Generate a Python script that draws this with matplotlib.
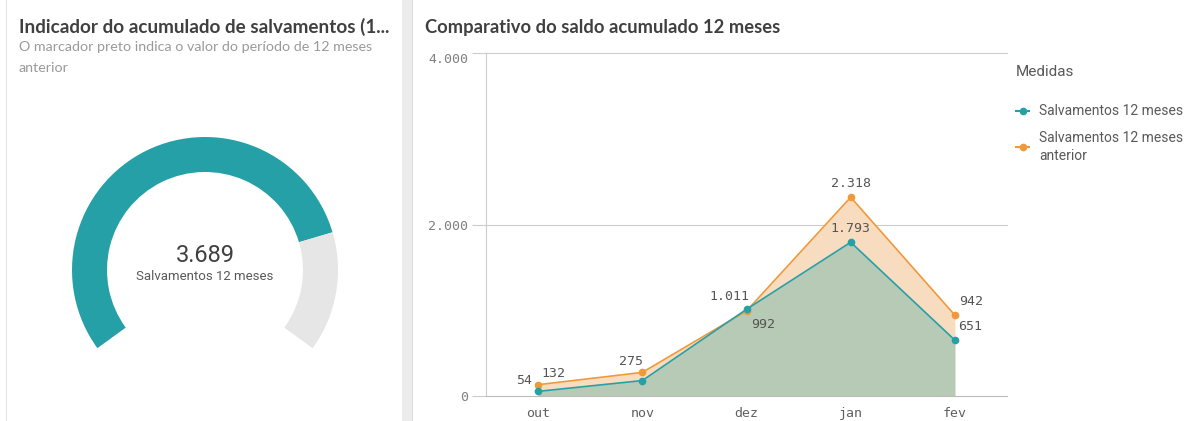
import matplotlib.pyplot as plt
from matplotlib.lines import Line2D
from matplotlib.patches import Rectangle

# dados
meses = ['out', 'nov', 'dez', 'jan', 'fev']
salv_12m = [54, 180, 1011, 1793, 651]
salv_12m_anterior = [132, 275, 992, 2318, 942]
rotulos_12m = ['54', None, '1.011', '1.793', '651']
rotulos_anterior = ['132', '275', '992', '2.318', '942']
y_ticks = [0, 2000, 4000]
y_tick_labels = ['0', '2.000', '4.000']
series_nomes = ['Salvamentos 12 meses', 'Salvamentos 12 meses\nanterior']

total_atual = sum(salv_12m)
total_anterior = sum(salv_12m_anterior)

TEAL = '#26a0a7'
ORANGE = '#f0993a'
W, H = 1204, 421


def fx(px):
    return px / W


def fy(py):
    return 1 - py / H


fig = plt.figure(figsize=(W / 100, H / 100), dpi=100)
fig.patch.set_facecolor('white')

# bordas / divisores
fig.add_artist(Rectangle((fx(6), 0), fx(1.5), 1, transform=fig.transFigure,
                         color='#e3e3e3', lw=0))
fig.add_artist(Rectangle((fx(402), 0), fx(10), 1, transform=fig.transFigure,
                         color='#ececec', lw=0))
fig.add_artist(Rectangle((fx(412), 0), fx(1.2), 1, transform=fig.transFigure,
                         color='#dddddd', lw=0))

# ---------- painel esquerdo: gauge ----------
fig.text(fx(19), fy(27), 'Indicador do acumulado de salvamentos (1...',
         fontsize=13.6, fontweight='bold', color='#404040', family='Lato',
         va='center', ha='left')
fig.text(fx(19), fy(47), 'O marcador preto indica o valor do período de 12 meses',
         fontsize=10.3, color='#9a9a9a', family='Lato', va='center', ha='left')
fig.text(fx(19), fy(68), 'anterior',
         fontsize=10.3, color='#9a9a9a', family='Lato', va='center', ha='left')

cx, cy, r = 205, 270, 133
gax = fig.add_axes([fx(cx - r), fy(cy + r), fx(2 * r), (2 * r) / H])
arc = 252.0
gap = total_anterior * (360 - arc) / arc
gax.pie([total_atual, total_anterior - total_atual, gap],
        colors=[TEAL, '#e6e6e6', 'none'], startangle=216, counterclock=False,
        radius=1, wedgeprops=dict(width=35 / 133, linewidth=0))
gax.set_xlim(-1, 1)
gax.set_ylim(-1, 1)
gax.set_aspect('equal')
gax.axis('off')
gax.text(0, (270 - 255) / r, f'{total_atual:,}'.replace(',', '.'),
         ha='center', va='center', fontsize=17, color='#404040', family='Roboto')
gax.text(0, (270 - 276) / r, 'Salvamentos 12 meses',
         ha='center', va='center', fontsize=9.5, color='#595959', family='Roboto')

# ---------- painel direito: area ----------
fig.text(fx(425), fy(27), 'Comparativo do saldo acumulado 12 meses',
         fontsize=13.2, fontweight='bold', color='#404040', family='Lato',
         va='center', ha='left')

ax = fig.add_axes([fx(486), fy(396), fx(521), (396 - 53) / H])
x = list(range(len(meses)))
ax.fill_between(x, 0, salv_12m_anterior, color='#f8dcc0', lw=0, zorder=1)
ax.fill_between(x, 0, salv_12m, color='#b7cab5', lw=0, zorder=2)
ax.plot(x, salv_12m_anterior, color=ORANGE, lw=1.2, marker='o', ms=4.5, zorder=4)
ax.plot(x, salv_12m, color=TEAL, lw=1.2, marker='o', ms=4.5, zorder=5)

ax.set_xlim(-0.5, len(meses) - 0.5)
ax.set_ylim(0, 4000)
ax.set_yticks(y_ticks)
ax.set_yticklabels(y_tick_labels, family='DejaVu Sans Mono', fontsize=9.5,
                   color='#808080')
ax.set_xticks(x)
ax.set_xticklabels(meses, family='DejaVu Sans Mono', fontsize=9.5, color='#606060')
ax.tick_params(axis='x', length=0, pad=8)
ax.tick_params(axis='y', length=10, color='#cccccc', width=0.8, pad=3)
ax.get_yticklabels()[-1].set_va('top')
for s in ['top', 'right']:
    ax.spines[s].set_visible(False)
ax.spines['left'].set_color('#cccccc')
ax.spines['left'].set_linewidth(0.8)
ax.spines['bottom'].set_color('#bbbbbb')
ax.spines['bottom'].set_linewidth(0.8)
for yv in y_ticks[1:]:
    ax.axhline(yv, color='#cccccc', lw=0.8, zorder=0, clip_on=False)

lbl = dict(family='DejaVu Sans Mono', fontsize=9.5, color='#555555',
           textcoords='offset points', va='center', zorder=6)
offs_12m = [(-10, 8), None, (-12, 9), (0, 10), (11, 10)]
offs_ant = [(11, 8), (-8, 8), (12, -10), (0, 10), (12, 10)]
for i in x:
    if rotulos_12m[i]:
        ax.annotate(rotulos_12m[i], (i, salv_12m[i]), xytext=offs_12m[i],
                    ha='center', **lbl)
    ax.annotate(rotulos_anterior[i], (i, salv_12m_anterior[i]),
                xytext=offs_ant[i], ha='center', **lbl)

# legenda
fig.text(fx(1016), fy(72), 'Medidas', fontsize=11, color='#595959',
         family='Roboto', va='center', ha='left')
leg_y = [111, 147]
for nome, cor, yy in zip(series_nomes, [TEAL, ORANGE], leg_y):
    fig.add_artist(Line2D([fx(1016), fx(1029)], [fy(yy), fy(yy)], color=cor,
                          lw=1.5, transform=fig.transFigure))
    fig.add_artist(Line2D([fx(1022.5)], [fy(yy)], color=cor, marker='o', ms=4.5,
                          transform=fig.transFigure))
    fig.text(fx(1039), fy(yy), nome, fontsize=10, color='#595959',
             family='Roboto', va='center', ha='left', linespacing=1.3)

fig.savefig('out.png', dpi=100)
